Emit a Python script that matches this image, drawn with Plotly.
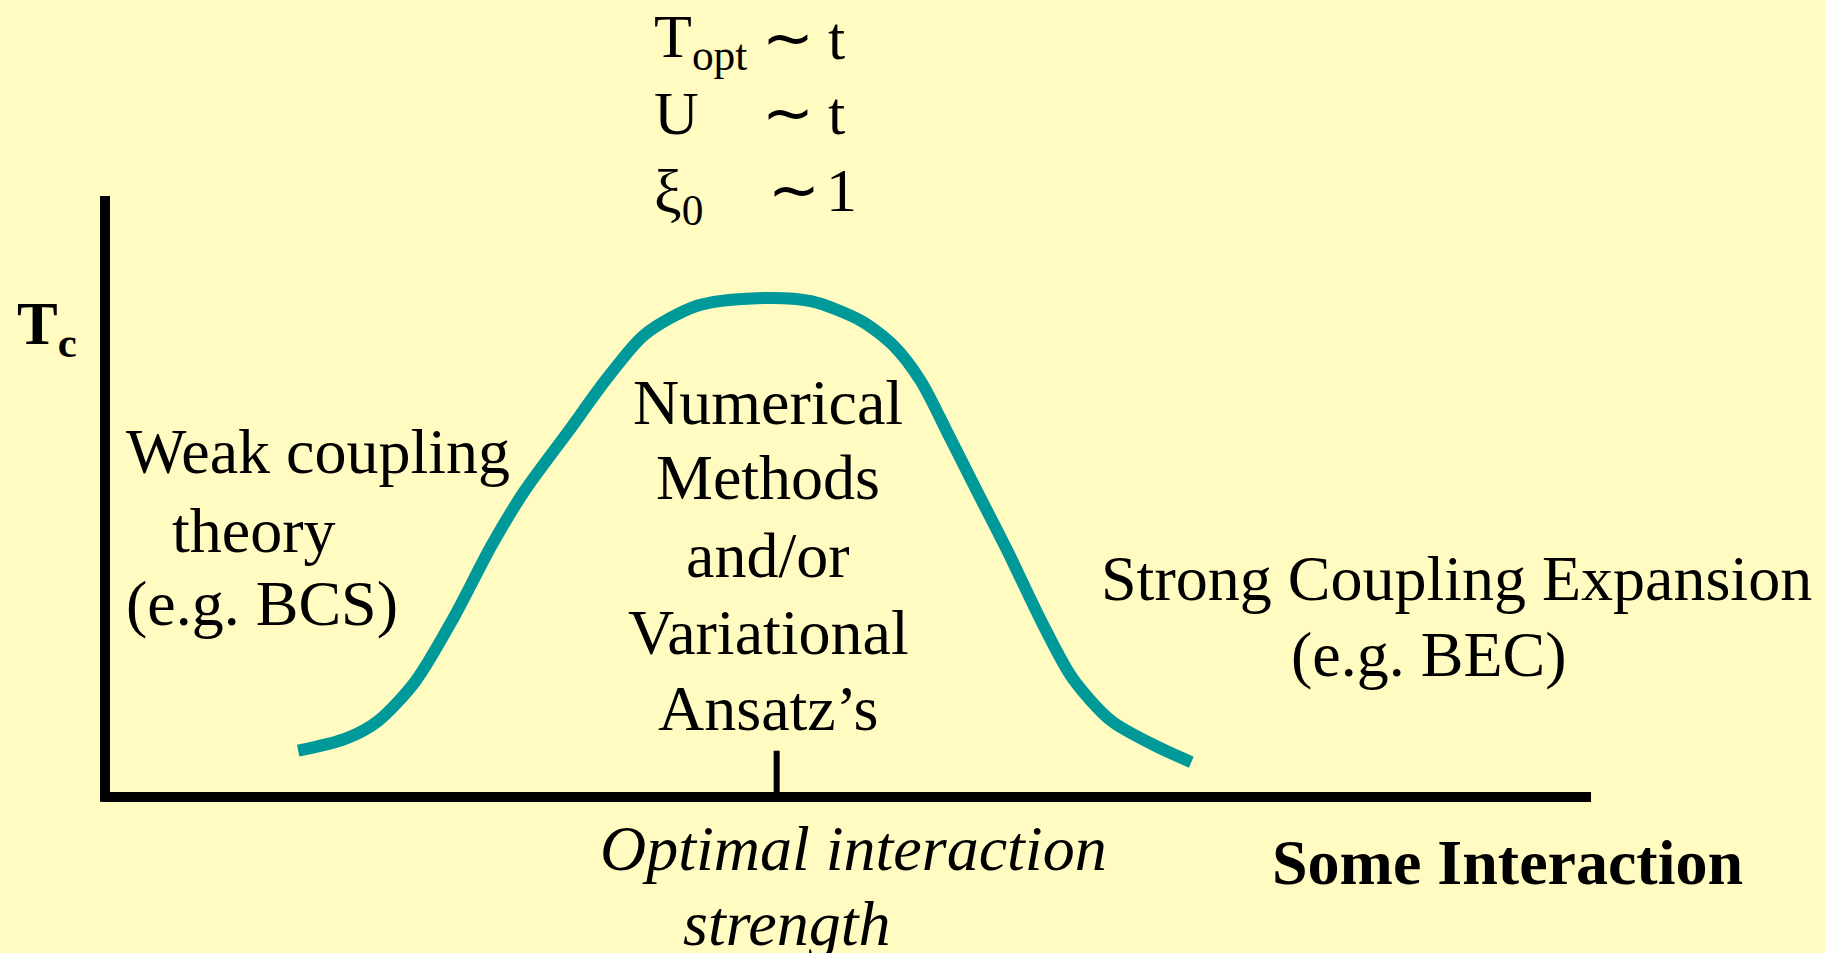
import plotly.graph_objects as go

# Conceptual Tc vs interaction-strength dome (axis units: x 0..10, y 0..10)
curve_x = [1.30, 1.62, 1.84, 2.09, 2.35, 2.60, 2.82, 3.12, 3.38, 3.63, 3.98, 4.39,
           4.75, 5.09, 5.31, 5.49, 5.69, 5.87, 6.08, 6.30, 6.51, 6.77, 7.07, 7.31]
curve_y = [0.77, 0.97, 1.27, 1.93, 3.00, 4.18, 5.08, 6.09, 6.97, 7.69, 8.17, 8.30,
           8.25, 7.92, 7.50, 6.92, 5.96, 5.08, 4.06, 2.93, 1.98, 1.27, 0.85, 0.58]
x_axis_len = 10.0
y_axis_len = 10.0
x_optimal = 4.52
tick_len = 0.77

W, H = 1825, 953
BG = "#FFFBC1"
TEAL = "#009999"
FONT = "Liberation Serif, Times New Roman, serif"
FS = 64

# pixel mapping for axes: origin at (105, 797), 148.6 px/unit in x, 60.1 px/unit in y
x0px, y0px, sx, sy = 105, 797, 148.6, 60.1
xr = [-x0px / sx, (W - x0px) / sx]
yr = [(y0px - H) / sy, y0px / sy]

fig = go.Figure()
fig.add_trace(go.Scatter(x=curve_x, y=curve_y, mode="lines",
                         line=dict(color=TEAL, width=12, shape="spline", smoothing=0.8),
                         hoverinfo="skip", showlegend=False))

shapes = [
    dict(type="line", xref="x", yref="y", x0=-0.02, y0=0, x1=x_axis_len, y1=0,
         line=dict(color="black", width=10)),
    dict(type="line", xref="x", yref="y", x0=0, y0=-0.08, x1=0, y1=y_axis_len,
         line=dict(color="black", width=10)),
    dict(type="line", xref="x", yref="y", x0=x_optimal, y0=0, x1=x_optimal, y1=tick_len,
         line=dict(color="black", width=6)),
]


def P(px, py):
    return px / W, 1 - py / H


annotations = []


def add(text, px, py, xanchor="left", size=FS):
    x, y = P(px, py)
    annotations.append(dict(text=text, x=x, y=y, xref="paper", yref="paper",
                            xanchor=xanchor, yanchor="middle", showarrow=False,
                            font=dict(family=FONT, size=size, color="black")))


add("<b>T<sub>c</sub></b>", 15, 328, size=61)
add("Weak coupling", 124, 452)
add("theory", 170, 530)
add("(e.g. BCS)", 124, 603)
for txt, py in [("Numerical", 402), ("Methods", 477), ("and/or", 555),
                ("Variational", 632), ("Ansatz’s", 708)]:
    add(txt, 768, py, xanchor="center")
add("Strong Coupling Expansion", 1456, 578, xanchor="center")
add("(e.g. BEC)", 1429, 654, xanchor="center")
TS = 62
add("T<sub>opt</sub>", 652, 41, size=TS)
add("U", 652, 113, size=TS)
add("ξ<sub>0</sub>", 652, 195, size=TS)
add("∼", 760, 38, size=TS)
add("∼", 760, 113, size=TS)
add("∼", 766, 190, size=TS)
add("t", 826, 38, size=TS)
add("t", 826, 113, size=TS)
add("1", 824, 190, size=TS)
add("<i>Optimal interaction</i>", 853, 848, xanchor="center")
add("<i>strength</i>", 786, 923, xanchor="center")
add("<b>Some Interaction</b>", 1507, 862, xanchor="center")

fig.update_layout(
    width=W, height=H,
    margin=dict(l=0, r=0, t=0, b=0),
    paper_bgcolor=BG, plot_bgcolor=BG,
    xaxis=dict(range=xr, visible=False, fixedrange=True),
    yaxis=dict(range=yr, visible=False, fixedrange=True),
    shapes=shapes, annotations=annotations,
    showlegend=False,
)
fig.write_html("out.html", config={"displayModeBar": False},
               post_script="document.body.style.margin='0';document.body.style.overflow='hidden';")
